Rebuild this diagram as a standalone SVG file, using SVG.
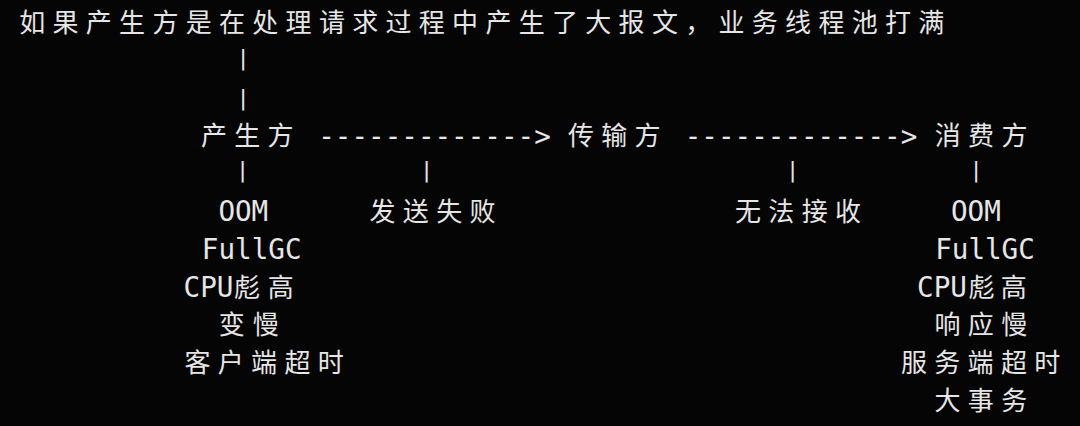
<svg xmlns="http://www.w3.org/2000/svg" width="1080" height="426" viewBox="0 0 1080 426">
<style>
.cjk{font-family:"Noto Sans CJK SC","Noto Sans CJK JP",sans-serif;font-size:26px;fill:#e6e6e6;text-anchor:middle}
.mono{font-family:"DejaVu Sans Mono","Liberation Mono",monospace;font-size:27.6px;fill:#e6e6e6;text-anchor:middle}
.bar{font-family:"DejaVu Sans Mono","Liberation Mono",monospace;font-size:22px;fill:#e6e6e6;text-anchor:middle}
</style>
<rect width="1080" height="426" fill="#050505"/>
<g id="title">
<text class="cjk" y="32" x="32.2 65.5 98.8 132.1 165.4 198.7 232 265.3 298.6 331.9 365.2 398.5 431.8 465.1 498.4 531.7 565 598.3 631.6 664.9 698.2 731.5 764.8 798.1 831.4 864.7 898 931.3">如果产生方是在处理请求过程中产生了大报文，业务线程池打满</text>
</g>
<g id="producer">
<text class="cjk" y="145.4" x="214 247.3 280.6">产生方</text>
<text class="mono" x="243.3" y="221">OOM</text>
<text class="mono" x="251.7" y="258.8">FullGC</text>
<text class="mono" x="208.5" y="296.6">CPU</text>
<text class="cjk" y="296.6" x="247 280.8">彪高</text>
<text class="cjk" y="334.4" x="231.7 265.8">变慢</text>
<text class="cjk" y="372.2" x="197.5 230.8 264.1 297.4 330.7">客户端超时</text>
</g>
<g id="transport">
<text class="cjk" y="145.4" x="581 614.3 647.6">传输方</text>
<text class="cjk" y="221" x="382.5 415.8 449.2 482.5">发送失败</text>
<text class="cjk" y="221" x="748 781.3 814.7 848">无法接收</text>
</g>
<g id="consumer">
<text class="cjk" y="145.4" x="947.8 981.1 1014.4">消费方</text>
<text class="mono" x="975.9" y="221">OOM</text>
<text class="mono" x="985" y="258.8">FullGC</text>
<text class="mono" x="942" y="296.6">CPU</text>
<text class="cjk" y="296.6" x="981.5 1013.8">彪高</text>
<text class="cjk" y="334.4" x="947.5 980.8 1014.2">响应慢</text>
<text class="cjk" y="372.2" x="914 947.3 980.6 1013.9 1047.2">服务端超时</text>
<text class="cjk" y="410" x="947.5 980.8 1014.2">大事务</text>
</g>
<g id="connectors">
<text class="bar" x="243" y="65.2">|</text>
<text class="bar" x="243" y="104.8">|</text>
<text class="mono" x="434.5" y="145.5">-------------&gt;</text>
<text class="mono" x="801" y="145.5">-------------&gt;</text>
<text class="bar" x="242.7" y="176.8">|</text>
<text class="bar" x="426.7" y="176.8">|</text>
<text class="bar" x="792.7" y="176.8">|</text>
<text class="bar" x="976" y="176.8">|</text>
</g>
</svg>
